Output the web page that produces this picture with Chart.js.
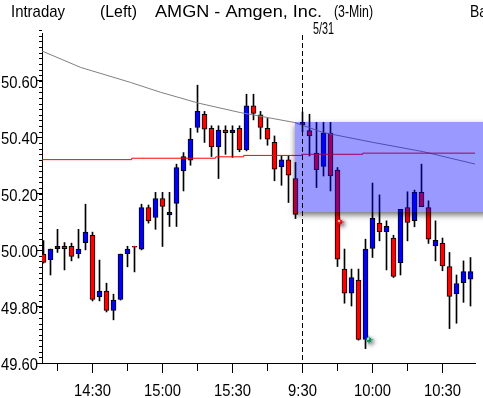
<!DOCTYPE html>
<html><head><meta charset="utf-8">
<script src="https://cdn.jsdelivr.net/npm/chart.js@4.4.1/dist/chart.umd.min.js"></script>
<style>html,body{margin:0;padding:0;background:#fff;overflow:hidden}canvas{display:block}</style>
</head><body>
<canvas id="c" width="483" height="398"></canvas>
<script>
// ---- data ----
const times = [
 '14:09','14:12','14:15','14:18','14:21','14:24','14:27','14:30','14:33','14:36','14:39','14:42','14:45','14:48','14:51','14:54','14:57',
 '15:00','15:03','15:06','15:09','15:12','15:15','15:18','15:21','15:24','15:27','15:30','15:33','15:36','15:39','15:42','15:45','15:48','15:51','15:54','15:57',
 '9:30','9:33','9:36','9:39','9:42','9:45','9:48','9:51','9:54','9:57',
 '10:00','10:03','10:06','10:09','10:12','10:15','10:18','10:21','10:24','10:27','10:30','10:33','10:36','10:39','10:42'
];
const open  = [49.986,49.966,50.005,50.014,50.014,49.988,50.027,50.053,49.834,49.855,49.786,49.825,49.988,50.014,50.004,50.151,50.116,50.183,50.125,50.166,50.281,50.319,50.435,50.482,50.432,50.366,50.426,50.417,50.432,50.356,50.512,50.480,50.432,50.382,50.295,50.320,50.254,
               50.453,50.424,50.344,50.297,50.415,50.284,49.933,49.848,49.894,49.684,50.006,50.096,50.066,50.043,49.956,50.151,50.105,50.205,50.151,50.015,50.024,49.942,49.846,49.885,49.897];
const high  = [50.034,50.004,50.074,50.027,50.025,50.074,50.163,50.064,49.965,49.883,49.844,49.986,50.014,50.014,50.163,50.160,50.205,50.205,50.205,50.305,50.346,50.432,50.585,50.492,50.441,50.441,50.441,50.441,50.441,50.553,50.553,50.492,50.467,50.405,50.334,50.334,50.311,
               50.490,50.482,50.453,50.453,50.453,50.293,50.004,49.933,49.933,50.039,50.238,50.196,50.104,50.053,50.145,50.207,50.213,50.305,50.175,50.104,50.043,49.992,49.912,49.962,49.974];
const low   = [49.954,49.912,49.992,49.930,49.962,49.972,50.001,49.820,49.820,49.781,49.753,49.823,49.941,49.923,50.001,50.096,50.074,50.013,50.084,50.084,50.210,50.301,50.418,50.382,50.332,50.254,50.340,50.329,50.349,50.352,50.462,50.394,50.372,50.246,50.230,50.169,50.112,
               50.420,50.334,50.222,50.263,50.210,49.942,49.812,49.802,49.681,49.651,49.974,50.033,49.930,49.903,49.912,50.033,50.083,50.154,50.024,49.962,49.927,49.722,49.741,49.815,49.802];
const close = [49.957,50.004,50.014,50.005,49.978,50.004,50.064,49.825,49.855,49.786,49.823,49.986,50.004,50.011,50.151,50.104,50.183,50.155,50.134,50.293,50.332,50.394,50.492,50.429,50.366,50.426,50.417,50.426,50.356,50.512,50.485,50.435,50.394,50.287,50.320,50.266,50.127,
               50.444,50.405,50.285,50.415,50.263,49.968,49.848,49.903,49.684,50.004,50.113,50.066,50.085,49.907,50.145,50.098,50.205,50.154,50.039,50.035,49.944,49.836,49.882,49.924,49.924];
// gray average line (bar index, price)
const avgIdx = [-0.2,5.3,12.4,16.7,22.2,28.1,35.8,40.0,47.1,54.3,61.7];
const avgVal = [50.706,50.648,50.595,50.560,50.521,50.488,50.453,50.417,50.382,50.349,50.305];
// red stepped reference line (bar index where level starts, price)
const refIdx = [-0.2,12.6,24.6,28.6,36.9,45.6,55.6,61.7];
const refVal = [50.317,50.321,50.326,50.331,50.336,50.340,50.344,50.344];
// shaded zone
const zoneStartIdx = 35.93, zoneTop = 50.455, zoneBottom = 50.135;
// signal markers
const sigRed   = {x:42.36, y:50.100};
const sigGreen = {x:46.5,  y:49.682};
const yTickLabels = [49.60,49.80,50.00,50.20,50.40,50.60];
const yMin = 49.60, yMax = 50.770, yMinorStep = 0.02;
const sessionBreak = '9:30', sessionDate = '5/31';
// header texts: [text, left x, target width]
const header = [['Intraday',11,54],['(Left)',100,37],['AMGN - Amgen, Inc.',155,167],['(3-Min)',334,39],['Ba',470,17]];

const FONT = "'Liberation Sans',Arial,sans-serif";
const SQ = 0.87; // horizontal squeeze for the narrow bitmap-like font
const minuteOf = t => parseInt(t.split(':')[1],10);
const majorX = times.map((t,i)=>i).filter(i=>minuteOf(times[i])%30===0);
const minorX = times.map((t,i)=>i).filter(i=>minuteOf(times[i])%15===0 && minuteOf(times[i])%30!==0);
const breakIdx = times.indexOf(sessionBreak);

function squeezedText(ctx, text, x, y, align, sx){
  ctx.save();
  ctx.setTransform(sx,0,0,1,0,0);
  ctx.textAlign = align;
  ctx.fillText(text, x/sx, y);
  ctx.restore();
}

const overlay = {
  id:'overlay',
  afterDatasetsDraw(chart){
    const {ctx, chartArea:a, scales:{x,y}} = chart;
    const W = chart.width;
    const zx = Math.round(x.getPixelForValue(zoneStartIdx));
    const zt = Math.round(y.getPixelForValue(zoneTop));
    const zb = Math.round(y.getPixelForValue(zoneBottom));
    const zw = W - zx, zh = zb - zt;
    ctx.save();
    ctx.beginPath(); ctx.rect(0,0,W,chart.height); ctx.rect(zx,zt,zw,zh); ctx.clip('evenodd');
    ctx.shadowColor='rgba(0,0,0,0.55)'; ctx.shadowBlur=6; ctx.shadowOffsetX=0; ctx.shadowOffsetY=10003;
    ctx.fillStyle='#000'; ctx.fillRect(zx,zt-10000,zw+20,zh);
    ctx.restore();
    ctx.save();
    ctx.fillStyle='rgba(0,0,255,0.4)';
    ctx.fillRect(zx,zt,zw,zh);
    ctx.restore();
    const bx = Math.floor(x.getPixelForValue(breakIdx))+0.5;
    ctx.save();
    ctx.strokeStyle='#000'; ctx.lineWidth=1; ctx.setLineDash([5,3]);
    ctx.beginPath(); ctx.moveTo(bx,a.top+2); ctx.lineTo(bx,a.bottom); ctx.stroke();
    ctx.restore();
    const sparkle=(p,col,hi)=>{
      const cx=x.getPixelForValue(p.x), cy=y.getPixelForValue(p.y);
      ctx.save();
      ctx.shadowColor='rgba(0,0,0,0.7)'; ctx.shadowBlur=4; ctx.shadowOffsetX=2; ctx.shadowOffsetY=2;
      ctx.fillStyle=col; ctx.beginPath();
      for(let k=0;k<16;k++){const ang=k*Math.PI/8; const r=(k%2)?1.8:((k%4)?3.6:5); ctx.lineTo(cx+r*Math.cos(ang),cy+r*Math.sin(ang));}
      ctx.closePath(); ctx.fill();
      ctx.shadowColor='transparent'; ctx.fillStyle=hi; ctx.beginPath(); ctx.arc(cx-1,cy-1,1.3,0,Math.PI*2); ctx.fill();
      ctx.restore();
    };
    sparkle(sigRed,'#e01010','#ffb0b0');
    sparkle(sigGreen,'#008a50','#90f0c0');
  },
  afterDraw(chart){
    const {ctx, chartArea:a, scales:{x,y}} = chart;
    ctx.save();
    ctx.strokeStyle='#000'; ctx.lineWidth=1;
    ctx.beginPath();
    const n = Math.round((yMax-yMin)/yMinorStep);
    for(let k=0;k<=n;k++){
      const py = Math.round(y.getPixelForValue(yMin+k*yMinorStep))+0.5;
      ctx.moveTo(a.left-3,py); ctx.lineTo(a.left,py);
    }
    minorX.forEach(i=>{const px=Math.floor(x.getPixelForValue(i))+0.5; ctx.moveTo(px,a.bottom); ctx.lineTo(px,a.bottom+8);});
    ctx.stroke();
    ctx.fillStyle='#000'; ctx.font='17px '+FONT; ctx.textBaseline='alphabetic';
    y.ticks.forEach(t=>{
      const py = y.getPixelForValue(t.value);
      squeezedText(ctx, Number(t.value).toFixed(2), a.left-4, Math.round(py)+6.5, 'right', SQ);
    });
    x.ticks.forEach(t=>{
      const px = x.getPixelForValue(t.value);
      squeezedText(ctx, times[t.value], px, 395.5, 'center', SQ);
    });
    header.forEach(([t,px,w])=>{
      const sx = w / ctx.measureText(t).width;
      squeezedText(ctx, t, px, 17, 'left', sx);
    });
    const dw = ctx.measureText(sessionDate).width;
    squeezedText(ctx, sessionDate, Math.floor(x.getPixelForValue(breakIdx))+11, 34, 'left', 21/dw);
    ctx.restore();
  }
};

new Chart(document.getElementById('c'),{
  type:'bar',
  data:{datasets:[
    {type:'line', label:'ref', data:refIdx.map((v,k)=>({x:v,y:refVal[k]})), stepped:'after', borderColor:'#ff0000', borderWidth:1, pointRadius:0, order:0},
    {type:'line', label:'avg', data:avgIdx.map((v,k)=>({x:v,y:avgVal[k]})), borderColor:'#808080', borderWidth:1, pointRadius:0, tension:0, order:1},
    {label:'body', data:times.map((t,i)=>({x:i,y:[open[i],close[i]]})),
     backgroundColor:c=>close[c.dataIndex]>=open[c.dataIndex]?'#0000ff':'#ff0000',
     borderColor:'#000', borderWidth:1, borderSkipped:false, barThickness:5, grouped:false, order:2},
    {label:'wick', data:times.map((t,i)=>({x:i,y:[low[i],high[i]]})),
     backgroundColor:'#000', borderWidth:0, barThickness:1, grouped:false, order:3}
  ]},
  options:{
    responsive:false, devicePixelRatio:1, animation:false,
    layout:{padding:{top:33,right:8,left:0,bottom:0}},
    plugins:{legend:{display:false},tooltip:{enabled:false},title:{display:false}},
    scales:{
      x:{type:'linear', min:-0.2143, max:61.643, offset:false,
         grid:{drawOnChartArea:false, offset:false, tickLength:10, tickColor:'#000'},
         border:{color:'#000'},
         afterBuildTicks:s=>{s.ticks=majorX.map(i=>({value:i}));},
         afterFit:s=>{s.height=35;},
         ticks:{display:false, autoSkip:false, maxRotation:0}},
      y:{min:yMin, max:yMax,
         grid:{drawOnChartArea:false, tickLength:5, tickColor:'#000'},
         border:{color:'#000'},
         afterBuildTicks:s=>{s.ticks=yTickLabels.map(v=>({value:v}));},
         afterFit:s=>{s.width=42;},
         ticks:{display:false}}
    }
  },
  plugins:[overlay]
});
</script>
</body></html>
